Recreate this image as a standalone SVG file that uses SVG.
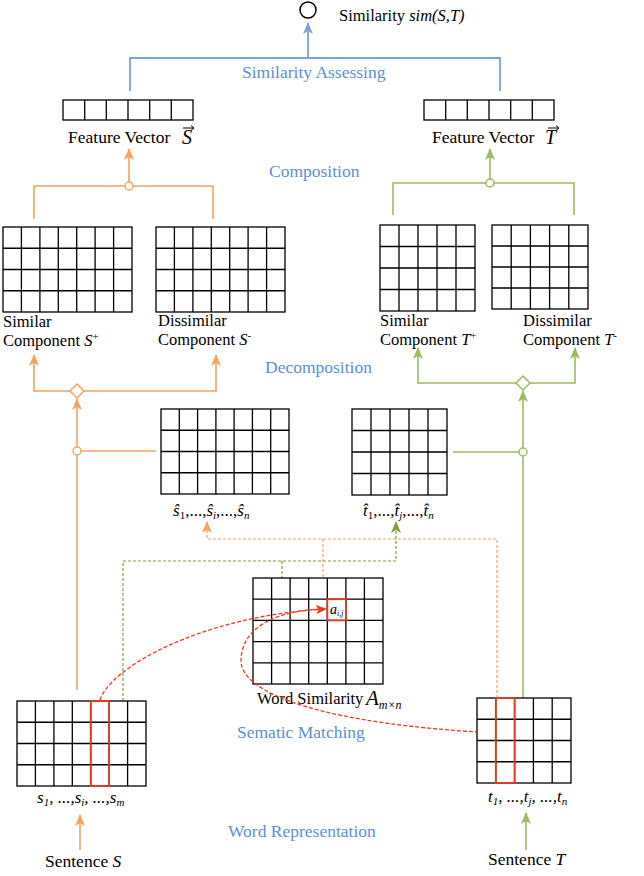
<svg xmlns="http://www.w3.org/2000/svg" width="644" height="876" viewBox="0 0 644 876">
<style>
 text { font-family: "Liberation Serif", "Times New Roman", serif; fill:#000; }
 .lbl { font-size:16.5px; }
 .fv { font-size:17.5px; }
 .stage { font-size:17.5px; fill:#5B8FD8; }
 .it { font-style:italic; }
 .grid { fill:#fff; stroke:#000; stroke-width:1.3; }
 .gl { fill:none; stroke:#000; stroke-width:1.3; }
 .or { fill:none; stroke:#F5A35E; stroke-width:1.6; }
 .gr { fill:none; stroke:#9DBB61; stroke-width:1.6; }
 .bl { fill:none; stroke:#7BA3D4; stroke-width:1.8; }
 .ord { fill:none; stroke:#F5A35E; stroke-width:1.2; stroke-dasharray:3 2; }
 .grd { fill:none; stroke:#7FA03A; stroke-width:1.2; stroke-dasharray:3 2; }
 .red { fill:none; stroke:#F03A1E; stroke-width:1.3; stroke-dasharray:4 2; }
 .redbox { fill:none; stroke:#E8391E; stroke-width:1.8; }
 .jo { fill:#fff; stroke:#F5A35E; stroke-width:1.5; }
 .jg { fill:#fff; stroke:#9DBB61; stroke-width:1.5; }
</style>
<defs>
 <marker id="aO" viewBox="0 0 12 12" refX="11" refY="6" markerWidth="12" markerHeight="12" markerUnits="userSpaceOnUse" orient="auto"><path d="M0,1 L12,6 L0,11 L3,6 z" fill="#F5A35E"/></marker>
 <marker id="aG" viewBox="0 0 12 12" refX="11" refY="6" markerWidth="12" markerHeight="12" markerUnits="userSpaceOnUse" orient="auto"><path d="M0,1 L12,6 L0,11 L3,6 z" fill="#9DBB61"/></marker>
 <marker id="aGd" viewBox="0 0 12 12" refX="11" refY="6" markerWidth="12" markerHeight="12" markerUnits="userSpaceOnUse" orient="auto"><path d="M0,1 L12,6 L0,11 L3,6 z" fill="#7FA03A"/></marker>
 <marker id="aB" viewBox="0 0 12 12" refX="11" refY="6" markerWidth="12" markerHeight="12" markerUnits="userSpaceOnUse" orient="auto"><path d="M0,1 L12,6 L0,11 L3,6 z" fill="#7BA3D4"/></marker>
 <marker id="aR" viewBox="0 0 12 12" refX="11" refY="6" markerWidth="11" markerHeight="11" markerUnits="userSpaceOnUse" orient="auto"><path d="M0,1 L12,6 L0,11 L3,6 z" fill="#F03A1E"/></marker>
</defs>

<g id="connectors">
 <!-- similarity assessing -->
 <path class="bl" d="M130,91 V58 H500 V91"/>
 <path class="bl" d="M308,58 V23" marker-end="url(#aB)"/>
 <!-- composition -->
 <path class="or" d="M34,219 V186 H213 V219"/>
 <path class="or" d="M129,186 V149" marker-end="url(#aO)"/>
 <circle class="jo" cx="129" cy="186" r="4"/>
 <path class="gr" d="M393,215 V183 H574 V215"/>
 <path class="gr" d="M490,183 V149" marker-end="url(#aG)"/>
 <circle class="jg" cx="490" cy="183" r="4"/>
 <!-- decomposition S -->
 <path class="or" d="M77,391 H34 V355" marker-end="url(#aO)"/>
 <path class="or" d="M77,391 H216 V355" marker-end="url(#aO)"/>
 <path class="or" d="M77,690 V399" marker-end="url(#aO)"/>
 <path class="or" d="M77,451 H156"/>
 <circle class="jo" cx="77" cy="451" r="4"/>
 <path d="M77,384 L84,391 L77,398 L70,391 z" fill="#fff" stroke="#F5A35E" stroke-width="1.5"/>
 <!-- decomposition T -->
 <path class="gr" d="M523,383 H418 V348" marker-end="url(#aG)"/>
 <path class="gr" d="M523,383 H575 V348" marker-end="url(#aG)"/>
 <path class="gr" d="M523,698 V391" marker-end="url(#aG)"/>
 <path class="gr" d="M453,452 H523"/>
 <circle class="jg" cx="523" cy="452" r="4"/>
 <path d="M523,376 L530,383 L523,390 L516,383 z" fill="#fff" stroke="#9DBB61" stroke-width="1.5"/>
 <!-- dashed matching -->
 <path class="ord" d="M497,698 V539 H207 V522" marker-end="url(#aO)"/>
 <path class="ord" d="M323,539 V578"/>
 <path class="grd" d="M123,701 V561 H396 V522" marker-end="url(#aGd)"/>
 <path class="grd" d="M282,561 V578"/>
 <!-- word representation -->
 <path class="or" d="M80,850 V815" marker-end="url(#aO)"/>
 <path class="gr" d="M526,850 V813" marker-end="url(#aG)"/>
</g>

<g id="similarity">
 <circle cx="308" cy="10" r="8" fill="#fff" stroke="#000" stroke-width="1.5"/>
 <text x="339" y="21" class="lbl">Similarity <tspan class="it">sim(S,T)</tspan></text>
</g>
<text x="242" y="78" class="stage">Similarity Assessing</text>

<g id="featureS">
 <rect class="grid" x="63" y="100" width="130" height="20"/>
 <path class="gl" d="M84.7,100V120M106.3,100V120M128,100V120M149.7,100V120M171.3,100V120"/>
 <text x="68" y="143" class="fv">Feature Vector</text>
 <text x="182" y="144" class="it" font-size="20">S</text>
 <path d="M183,128 H194 M191,125.5 L194,128 L191,130.5" fill="none" stroke="#000" stroke-width="1"/>
</g>
<g id="featureT">
 <rect class="grid" x="424" y="100" width="130" height="20"/>
 <path class="gl" d="M445.7,100V120M467.3,100V120M489,100V120M510.7,100V120M532.3,100V120"/>
 <text x="432" y="143" class="fv">Feature Vector</text>
 <text x="545" y="144" class="it" font-size="20">T</text>
 <path d="M548,128 H559 M556,125.5 L559,128 L556,130.5" fill="none" stroke="#000" stroke-width="1"/>
</g>

<text x="269" y="177" class="stage">Composition</text>

<g id="simS">
 <rect class="grid" x="3" y="227" width="129" height="85"/>
 <path class="gl" d="M21.4,227V312M39.9,227V312M58.3,227V312M76.7,227V312M95.1,227V312M113.6,227V312M3,248.25H132M3,269.5H132M3,290.75H132"/>
 <text x="3" y="327" class="lbl">Similar</text>
 <text x="3" y="346" class="lbl">Component <tspan class="it">S</tspan><tspan font-size="11" dy="-6">+</tspan></text>
</g>
<g id="disS">
 <rect class="grid" x="156" y="227" width="129" height="85"/>
 <path class="gl" d="M174.4,227V312M192.9,227V312M211.3,227V312M229.7,227V312M248.1,227V312M266.6,227V312M156,248.25H285M156,269.5H285M156,290.75H285"/>
 <text x="158" y="326" class="lbl">Dissimilar</text>
 <text x="158" y="345" class="lbl">Component <tspan class="it">S</tspan><tspan font-size="11" dy="-6">-</tspan></text>
</g>
<g id="simT">
 <rect class="grid" x="380" y="225" width="95" height="86"/>
 <path class="gl" d="M399,225V311M418,225V311M437,225V311M456,225V311M380,246.5H475M380,268H475M380,289.5H475"/>
 <text x="380" y="326" class="lbl">Similar</text>
 <text x="380" y="345" class="lbl">Component <tspan class="it">T</tspan><tspan font-size="11" dy="-6">+</tspan></text>
</g>
<g id="disT">
 <rect class="grid" x="492" y="225" width="96" height="84"/>
 <path class="gl" d="M511.2,225V309M530.4,225V309M549.6,225V309M568.8,225V309M492,246H588M492,267H588M492,288H588"/>
 <text x="523" y="326" class="lbl">Dissimilar</text>
 <text x="523" y="345" class="lbl">Component <tspan class="it">T</tspan><tspan font-size="11" dy="-6">-</tspan></text>
</g>

<text x="265" y="373" class="stage">Decomposition</text>

<g id="shat">
 <rect class="grid" x="161" y="409" width="128" height="85"/>
 <path class="gl" d="M179.3,409V494M197.6,409V494M215.9,409V494M234.1,409V494M252.4,409V494M270.7,409V494M161,430.25H289M161,451.5H289M161,472.75H289"/>
 <text x="173" y="516" font-size="17"><tspan class="it">ŝ</tspan><tspan font-size="11" dy="3">1</tspan><tspan dy="-3">,...,</tspan><tspan class="it">ŝ</tspan><tspan class="it" font-size="11" dy="3">i</tspan><tspan dy="-3">,...,</tspan><tspan class="it">ŝ</tspan><tspan class="it" font-size="11" dy="3">n</tspan></text>
</g>
<g id="that">
 <rect class="grid" x="352" y="409" width="95" height="86"/>
 <path class="gl" d="M371,409V495M390,409V495M409,409V495M428,409V495M352,430.5H447M352,452H447M352,473.5H447"/>
 <text x="363" y="516" font-size="17"><tspan class="it">t̂</tspan><tspan font-size="11" dy="3">1</tspan><tspan dy="-3">,...,</tspan><tspan class="it">t̂</tspan><tspan class="it" font-size="11" dy="3">j</tspan><tspan dy="-3">,...,</tspan><tspan class="it">t̂</tspan><tspan class="it" font-size="11" dy="3">n</tspan></text>
</g>

<g id="wordsim">
 <rect class="grid" x="253" y="578" width="130" height="106"/>
 <path class="gl" d="M271.6,578V684M290.1,578V684M308.7,578V684M327.3,578V684M345.9,578V684M364.4,578V684M253,599.2H383M253,620.4H383M253,641.6H383M253,662.8H383"/>
 <rect class="redbox" x="327.3" y="599.2" width="18.6" height="21.2"/>
 <text x="330" y="614" class="it" font-size="14">a<tspan font-size="8" dy="2">i,j</tspan></text>
 <text x="257" y="704" class="lbl">Word Similarity</text>
 <text x="366" y="705" class="it" font-size="21">A<tspan font-size="12" dy="4">m×n</tspan></text>
</g>

<g id="matching">
 <path class="red" d="M100,700 C110,668 200,616 326,609" marker-end="url(#aR)"/>
 <path class="red" d="M497,733 C330,725 240,695 241,660 C242,625 280,611 320,609"/>
</g>

<text x="237" y="738" class="stage">Sematic Matching</text>

<g id="sentS">
 <rect class="grid" x="17" y="701" width="129" height="85"/>
 <path class="gl" d="M35.4,701V786M53.9,701V786M72.3,701V786M90.7,701V786M109.1,701V786M127.6,701V786M17,722.25H146M17,743.5H146M17,764.75H146"/>
 <rect class="redbox" x="90.7" y="701" width="18.4" height="85"/>
 <text x="37" y="803" class="it" font-size="17">s<tspan font-size="11" dy="3">1</tspan><tspan dy="-3">, ...,s</tspan><tspan font-size="11" dy="3">i</tspan><tspan dy="-3">, ...,s</tspan><tspan font-size="11" dy="3">m</tspan></text>
 <text x="45" y="867" class="fv">Sentence <tspan class="it">S</tspan></text>
</g>
<g id="sentT">
 <rect class="grid" x="477" y="698" width="94" height="85"/>
 <path class="gl" d="M495.8,698V783M514.6,698V783M533.4,698V783M552.2,698V783M477,719.25H571M477,740.5H571M477,761.75H571"/>
 <rect class="redbox" x="495.8" y="698" width="18.8" height="85"/>
 <text x="488" y="802" class="it" font-size="17">t<tspan font-size="11" dy="3">1</tspan><tspan dy="-3">, ...,t</tspan><tspan font-size="11" dy="3">j</tspan><tspan dy="-3">, ...,t</tspan><tspan font-size="11" dy="3">n</tspan></text>
 <text x="488" y="865" class="fv">Sentence <tspan class="it">T</tspan></text>
</g>

<text x="228" y="837" class="stage">Word Representation</text>
</svg>
